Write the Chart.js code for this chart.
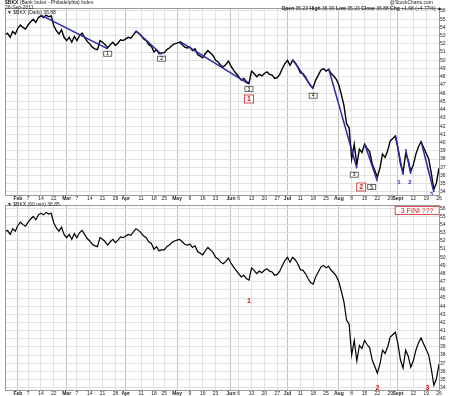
<!DOCTYPE html>
<html>
<head>
<meta charset="utf-8">
<script src="https://cdn.jsdelivr.net/npm/chart.js@4.4.0/dist/chart.umd.min.js"></script>
<style>
  body { margin: 0; background: #fff; width: 450px; height: 396px; overflow: hidden; position: relative; }
  canvas { position: absolute; left: 0; }
  #topChart { top: 0; }
  #botChart { top: 201px; }
</style>
</head>
<body>
<canvas id="topChart" width="450" height="201"></canvas>
<canvas id="botChart" width="450" height="195"></canvas>
<script>
// trading days 25 Jan - 26 Sep 2011
const holidays = ["2011-02-21", "2011-04-22", "2011-05-30", "2011-07-04", "2011-09-05"];
const dates = [];
for (let d = new Date(Date.UTC(2011, 0, 25)); d <= new Date(Date.UTC(2011, 8, 26)); d.setUTCDate(d.getUTCDate() + 1)) {
  const s = d.toISOString().slice(0, 10);
  if (d.getUTCDay() !== 0 && d.getUTCDay() !== 6 && !holidays.includes(s)) dates.push(s);
}

// daily close of $BKX
const closes = [
  53.1, 53.3, 52.8, 53.5, 53.2,
  53.9, 54.3, 54.0, 53.8,
  54.3, 54.7, 55.0, 54.6, 55.2,
  55.4, 55.2, 55.5, 55.3, 55.4,
  54.2, 53.6, 53.2, 53.7, 52.8,
  52.4, 52.8, 52.2, 52.9,
  52.4, 53.0, 53.3, 52.8, 52.3,
  52.0, 51.6, 51.4, 51.3, 52.4,
  52.2, 51.9, 51.5, 51.9, 52.2,
  51.8, 52.1, 52.5, 52.4,
  52.6, 52.8, 52.7, 53.1, 53.5, 53.3,
  53.0, 52.6, 52.4, 51.9, 51.7,
  51.0, 51.3, 50.8, 50.9,
  50.9, 51.3, 51.5, 51.8, 52.0,
  52.1, 52.2, 51.9, 51.6, 51.5,
  51.6, 51.2, 51.4, 50.7, 50.5,
  50.3, 50.8, 51.2, 50.9, 50.6,
  50.0, 49.8, 49.4, 49.2, 49.5, 49.9,
  49.3, 48.8, 48.4,
  48.0, 47.6, 47.8, 47.4, 47.2,
  48.7, 48.4, 48.0, 48.3, 48.1,
  48.4, 48.6, 48.3, 48.2, 47.8,
  47.9, 48.3, 49.0, 49.6,
  50.0, 49.4, 50.0, 49.7, 49.2,
  48.5, 48.4, 48.0, 47.4, 46.9,
  46.7, 47.6, 48.2, 48.8, 49.0,
  48.7, 48.9, 48.4, 48.1, 47.7,
  47.0, 45.8, 44.5, 42.3, 41.8,
  38.0, 39.8, 37.3, 39.2, 38.8,
  39.8, 39.3, 38.9, 37.4, 36.6,
  35.8, 36.9, 38.6, 38.2, 39.0,
  40.2, 40.5, 40.8,
  39.4, 37.4,
  36.4, 38.6, 37.9, 36.5,
  37.3, 38.6, 39.5, 40.1, 39.4,
  38.7, 38.0, 36.3, 34.3, 35.1, 36.9
];

// blue wave lines (day index from/to, price from/to)
const waveFrom = [14, 51, 68, 112, 126, 140, 152, 156, 162];
const waveTo   = [40, 61, 95, 120, 137, 145, 155, 158, 167];
const waveHi   = [55.5, 53.6, 52.3, 50.1, 49.0, 39.9, 40.9, 39.2, 40.2];
const waveLo   = [51.4, 50.7, 47.1, 46.5, 36.9, 35.3, 36.1, 36.2, 34.0];

// x axis tick labels
const tickDates = ["02-01","02-07","02-14","02-22","03-01","03-07","03-14","03-21","03-28",
  "04-01","04-11","04-18","04-25","05-02","05-09","05-16","05-23","06-01","06-06","06-13",
  "06-20","06-27","07-01","07-11","07-18","07-25","08-01","08-08","08-15","08-22","08-29",
  "09-01","09-12","09-19","09-26"];
const tickLabels = ["Feb","7","14","22","Mar","7","14","21","28","Apr","11","18","25",
  "May","9","16","23","Jun","6","13","20","27","Jul","11","18","25","Aug","8","15","22","29",
  "Sept","12","19","26"];

// annotations (day index, price level)
const topNotes = [
  { kind: "box", text: "1", i: 40, v: 50.8 },
  { kind: "box", text: "2", i: 61, v: 50.2 },
  { kind: "box", text: "3", i: 95, v: 46.5 },
  { kind: "red", text: "1", i: 95, v: 45.3 },
  { kind: "box", text: "4", i: 120, v: 45.7 },
  { kind: "box", text: "3", i: 136, v: 36.1 },
  { kind: "red", text: "2", i: 138.7, v: 34.6 },
  { kind: "box", text: "5", i: 142.8, v: 34.6 },
  { kind: "blue", text: "1", i: 153.4, v: 35.2 },
  { kind: "blue", text: "2", i: 157.7, v: 35.2 },
  { kind: "blue", text: "3", i: 166, v: 33.75 }
];
const botNotes = [
  { kind: "redtext", text: "1", i: 95, v: 44.6 },
  { kind: "redtext", text: "2", i: 145, v: 33.95 },
  { kind: "redtext", text: "3", i: 164.5, v: 33.95 },
  { kind: "fini", text: "3 FINI ???", i: 160.5, v: 55.75 }
];

const tickMap = {};
tickDates.forEach((d, k) => { tickMap["2011-" + d] = tickLabels[k]; });
const isMonth = lab => lab && isNaN(Number(lab));

function xAxis() {
  return {
    type: "category",
    offset: false,
    border: { display: true, color: "#999" },
    grid: {
      drawTicks: false,
      color: c => {
        const lab = tickMap[dates[c.index]];
        if (!lab) return "rgba(0,0,0,0)";
        return isMonth(lab) ? "#c4c4c4" : "#e2e2e2";
      },
      lineWidth: 1
    },
    ticks: {
      autoSkip: false, maxRotation: 0, minRotation: 0, padding: 1,
      color: "#222",
      font: c => ({ family: "Arial, 'Liberation Sans'", size: 5, weight: isMonth(c.tick && c.tick.label) ? "bold" : "normal" }),
      callback: (val, idx) => tickMap[dates[idx]] || ""
    },
    afterFit: s => { s.height = 6; }
  };
}

function yAxis(min, max) {
  return {
    position: "right", min: min, max: max,
    border: { display: true, color: "#999" },
    grid: { color: "#e2e2e2", drawTicks: false },
    ticks: { stepSize: 1, includeBounds: false, autoSkip: false, padding: 1, color: "#222",
      font: { family: "Arial, 'Liberation Sans'", size: 5 } },
    afterFit: s => { s.width = 11; }
  };
}

const frame = {
  id: "frame",
  afterDraw(chart) {
    const a = chart.chartArea, ctx = chart.ctx;
    ctx.save();
    ctx.strokeStyle = "#999";
    ctx.lineWidth = 1;
    ctx.strokeRect(Math.round(a.left) + 0.5, Math.round(a.top) + 0.5, Math.round(a.right - a.left), Math.round(a.bottom - a.top));
    ctx.restore();
  }
};

const notes = {
  id: "notes",
  afterDatasetsDraw(chart, args, opts) {
    const ctx = chart.ctx, xs = chart.scales.x, ys = chart.scales.y;
    ctx.save();
    ctx.textAlign = "center";
    ctx.textBaseline = "middle";
    (opts.items || []).forEach(n => {
      const x = xs.getPixelForValue(n.i), y = ys.getPixelForValue(n.v);
      if (n.kind === "box") {
        ctx.fillStyle = "#fff"; ctx.strokeStyle = "#444"; ctx.lineWidth = 0.8;
        ctx.fillRect(x - 4, y - 2.5, 8, 5); ctx.strokeRect(x - 4, y - 2.5, 8, 5);
        ctx.fillStyle = "#000"; ctx.font = "5px Arial";
        ctx.fillText(n.text, x, y + 0.3);
      } else if (n.kind === "red") {
        ctx.fillStyle = "#fff"; ctx.strokeStyle = "#d02020"; ctx.lineWidth = 0.8;
        ctx.fillRect(x - 4.5, y - 4, 9, 8); ctx.strokeRect(x - 4.5, y - 4, 9, 8);
        ctx.fillStyle = "#d01818"; ctx.font = "bold 7px Arial";
        ctx.fillText(n.text, x, y + 0.5);
      } else if (n.kind === "blue") {
        ctx.fillStyle = "#2828b0"; ctx.font = "bold 6px Arial";
        ctx.fillText(n.text, x, y);
      } else if (n.kind === "redtext") {
        ctx.fillStyle = "#d01818"; ctx.font = "bold 7px Arial";
        ctx.fillText(n.text, x, y);
      } else if (n.kind === "fini") {
        ctx.fillStyle = "#fff"; ctx.strokeStyle = "#d02020"; ctx.lineWidth = 0.8;
        ctx.fillRect(x - 22, y - 4, 44, 8); ctx.strokeRect(x - 22, y - 4, 44, 8);
        ctx.fillStyle = "#d01818"; ctx.font = "7px Arial";
        ctx.fillText(n.text, x, y + 0.5);
      }
    });
    ctx.restore();
  }
};

function runs(ctx, x, y, parts, align) {
  let w = 0;
  parts.forEach(p => { ctx.font = (p[1] ? "bold " : "") + "5px Arial"; w += ctx.measureText(p[0]).width; });
  let cx = align === "right" ? x - w : x;
  parts.forEach(p => {
    ctx.font = (p[1] ? "bold " : "") + "5px Arial";
    ctx.fillText(p[0], cx, y);
    cx += ctx.measureText(p[0]).width;
  });
}

const header = {
  id: "header",
  afterDraw(chart, args, opts) {
    const ctx = chart.ctx;
    ctx.save();
    ctx.fillStyle = "#222";
    ctx.textBaseline = "middle";
    ctx.textAlign = "left";
    (opts.lines || []).forEach(l => runs(ctx, l.x, l.y, l.parts, l.align));
    ctx.restore();
  }
};

function priceSet(w) {
  return { data: closes, borderColor: "#000", borderWidth: w, pointRadius: 0, tension: 0, order: 2 };
}

const waveSets = waveFrom.map((f, k) => ({
  data: [{ x: dates[f], y: waveHi[k] }, { x: dates[waveTo[k]], y: waveLo[k] }],
  borderColor: "#2a2aa8", borderWidth: 1.5, pointRadius: 0, order: 1
}));

new Chart(document.getElementById("topChart"), {
  type: "line",
  data: { labels: dates, datasets: [priceSet(1.4)].concat(waveSets) },
  options: {
    responsive: false, animation: false,
    layout: { padding: { top: 8, left: 5, right: 0, bottom: 0 } },
    scales: { x: xAxis(), y: yAxis(33.63, 56.36) },
    plugins: {
      legend: { display: false }, tooltip: { enabled: false },
      notes: { items: topNotes },
      header: { lines: [
        { x: 5, y: 3, parts: [["$BKX", true], [" (Bank Index - Philadelphia) Index", false]] },
        { x: 5, y: 8, parts: [["26-Sep-2011", false]] },
        { x: 7, y: 13, parts: [["\u25BC $BKX (Daily) 36.88", false]] },
        { x: 433, y: 3, align: "right", parts: [["@StockCharts.com", false]] },
        { x: 442, y: 9, align: "right", parts: [["Open", true], [" 35.23 ", false], ["High", true], [" 36.90 ", false],
          ["Low", true], [" 35.23 ", false], ["Close", true], [" 36.88 ", false], ["Chg", true], [" +1.68 (+4.77%) \u25B2", false]] }
      ] }
    }
  },
  plugins: [frame, notes, header]
});

new Chart(document.getElementById("botChart"), {
  type: "line",
  data: { labels: dates, datasets: [priceSet(1.2)] },
  options: {
    responsive: false, animation: false,
    layout: { padding: { top: 0, left: 5, right: 0, bottom: 0 } },
    scales: { x: xAxis(), y: yAxis(33.72, 56.41) },
    plugins: {
      legend: { display: false }, tooltip: { enabled: false },
      notes: { items: botNotes },
      header: { lines: [
        { x: 7, y: 4, parts: [["\u25BC $BKX (60 min) 36.85", false]] }
      ] }
    }
  },
  plugins: [frame, notes, header]
});
</script>
</body>
</html>
